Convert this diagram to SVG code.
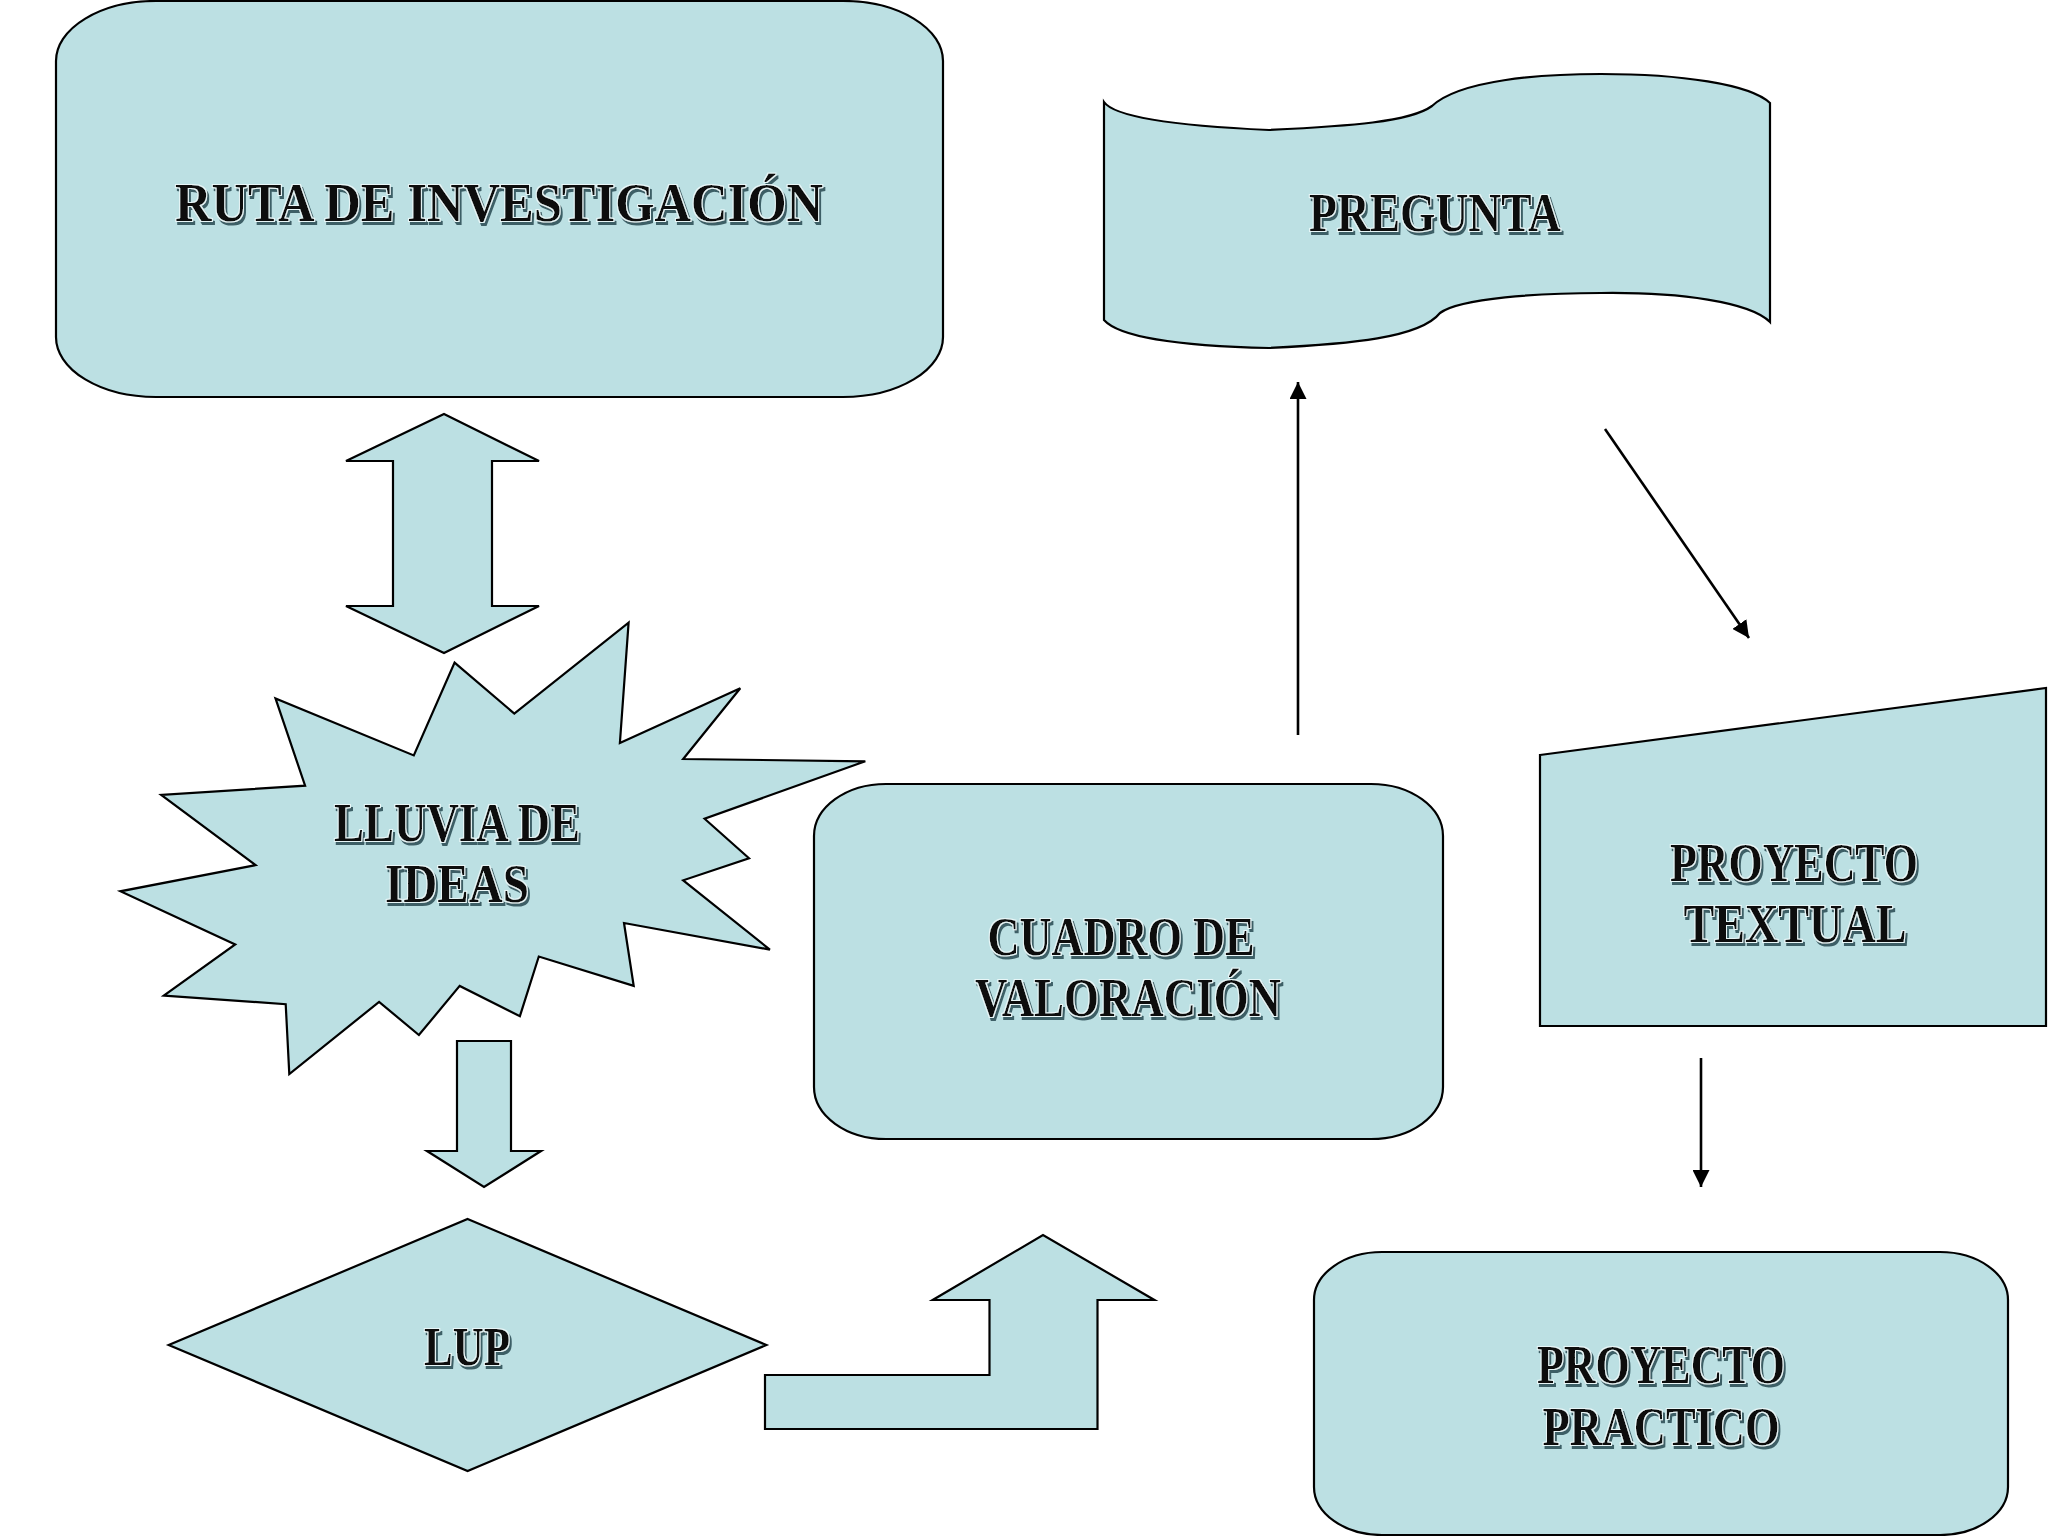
<svg xmlns="http://www.w3.org/2000/svg" width="2048" height="1536" viewBox="0 0 2048 1536">
<defs>
<style>
.shape{fill:#BCE0E3;stroke:#000;stroke-width:2.2;stroke-linejoin:miter}
.lbl{font-family:"Liberation Serif","DejaVu Serif",serif;font-weight:bold;font-size:54px;fill:#0a0a0a;text-anchor:middle;filter:url(#sh)}
.con{stroke:#000;stroke-width:2.6;fill:none}
</style>
<filter id="sh" x="-10%" y="-30%" width="120%" height="160%">
<feMorphology in="SourceAlpha" operator="dilate" radius="1" result="d"/>
<feOffset in="d" dx="2" dy="3" result="o"/>
<feFlood flood-color="#3d5f66"/>
<feComposite in2="o" operator="in" result="s"/>
<feFlood flood-color="#e8f6f7"/>
<feComposite in2="d" operator="in" result="w"/>
<feMerge><feMergeNode in="s"/><feMergeNode in="w"/><feMergeNode in="SourceGraphic"/></feMerge>
</filter>
<marker id="ah" viewBox="0 0 10 10" refX="10" refY="5" markerWidth="17" markerHeight="17" markerUnits="userSpaceOnUse" orient="auto">
<path d="M0,0 L10,5 L0,10 Z" fill="#000"/>
</marker>
</defs>
<rect width="2048" height="1536" fill="#fff"/>

<g id="ruta">
<rect class="shape" x="56" y="1" width="887" height="396" rx="100" ry="60"/>
<text class="lbl" x="499" y="221" textLength="648" lengthAdjust="spacingAndGlyphs">RUTA DE INVESTIGACIÓN</text>
</g>

<g id="pregunta">
<path class="shape" d="M1104,102 C1115,118 1180,126 1269,130 C1350,126 1410,122 1432,106 C1460,80 1540,74 1601,74 C1680,74 1750,84 1770,103 L1770,322 C1750,302 1680,292 1601,293 C1540,293 1460,298 1440,313 C1420,338 1350,344 1269,348 C1180,346 1120,338 1104,320 Z"/>
<text class="lbl" x="1435" y="231" textLength="252" lengthAdjust="spacingAndGlyphs">PREGUNTA</text>
</g>

<g id="doble-flecha">
<path class="shape" d="M444,414 L539,461 L492,461 L492,606 L539,606 L444,653 L346,606 L393,606 L393,461 L346,461 Z"/>
</g>

<g id="lluvia">
<path class="shape" d="M454.6,662.6 L514.3,713.6 L628.6,622.7 L619.9,743 L740.3,688.3 L683.2,759 L865.3,761.3 L704.6,818.7 L749,858.2 L683.2,880.3 L769.9,949.6 L624,923 L633.7,985.9 L538.8,956.5 L519.9,1016.2 L459.7,985.9 L418.9,1035 L379.1,1001.9 L289.3,1074 L285.7,1004.2 L163.8,995.5 L235.2,944.5 L120.4,891.3 L255.6,865.1 L161.2,794.9 L305.1,785.7 L275.5,698.4 L413.8,755.4 Z"/>
<text class="lbl" x="457" y="841" textLength="246" lengthAdjust="spacingAndGlyphs">LLUVIA DE</text>
<text class="lbl" x="457" y="902" textLength="144" lengthAdjust="spacingAndGlyphs">IDEAS</text>
</g>

<g id="flecha-abajo">
<path class="shape" d="M457,1041 L511,1041 L511,1151 L541,1151 L484,1187 L427,1151 L457,1151 Z"/>
</g>

<g id="lup">
<path class="shape" d="M467.6,1219 L766.4,1345 L467.6,1471 L168.7,1345 Z"/>
<text class="lbl" x="467" y="1365" textLength="86" lengthAdjust="spacingAndGlyphs">LUP</text>
</g>

<g id="flecha-giro">
<path class="shape" d="M765,1375 L989.5,1375 L989.5,1300 L932.7,1300 L1043,1235 L1154.4,1300 L1097.5,1300 L1097.5,1429 L765,1429 Z"/>
</g>

<g id="cuadro">
<rect class="shape" x="814" y="784" width="629" height="355" rx="72" ry="52"/>
<text class="lbl" x="1121" y="955" textLength="267" lengthAdjust="spacingAndGlyphs">CUADRO DE</text>
<text class="lbl" x="1128" y="1016" textLength="306" lengthAdjust="spacingAndGlyphs">VALORACIÓN</text>
</g>

<g id="textual">
<path class="shape" d="M1540,755 L2046,688 L2046,1026 L1540,1026 Z"/>
<text class="lbl" x="1794" y="881" textLength="248" lengthAdjust="spacingAndGlyphs">PROYECTO</text>
<text class="lbl" x="1795" y="942" textLength="223" lengthAdjust="spacingAndGlyphs">TEXTUAL</text>
</g>

<g id="practico">
<rect class="shape" x="1314" y="1252" width="694" height="283" rx="68" ry="48"/>
<text class="lbl" x="1661" y="1383" textLength="248" lengthAdjust="spacingAndGlyphs">PROYECTO</text>
<text class="lbl" x="1661" y="1445" textLength="237" lengthAdjust="spacingAndGlyphs">PRACTICO</text>
</g>

<g id="conectores">
<line class="con" x1="1298" y1="735" x2="1298" y2="382" marker-end="url(#ah)"/>
<line class="con" x1="1605" y1="429" x2="1749" y2="638" marker-end="url(#ah)"/>
<line class="con" x1="1701" y1="1058" x2="1701" y2="1187" marker-end="url(#ah)"/>
</g>
</svg>
